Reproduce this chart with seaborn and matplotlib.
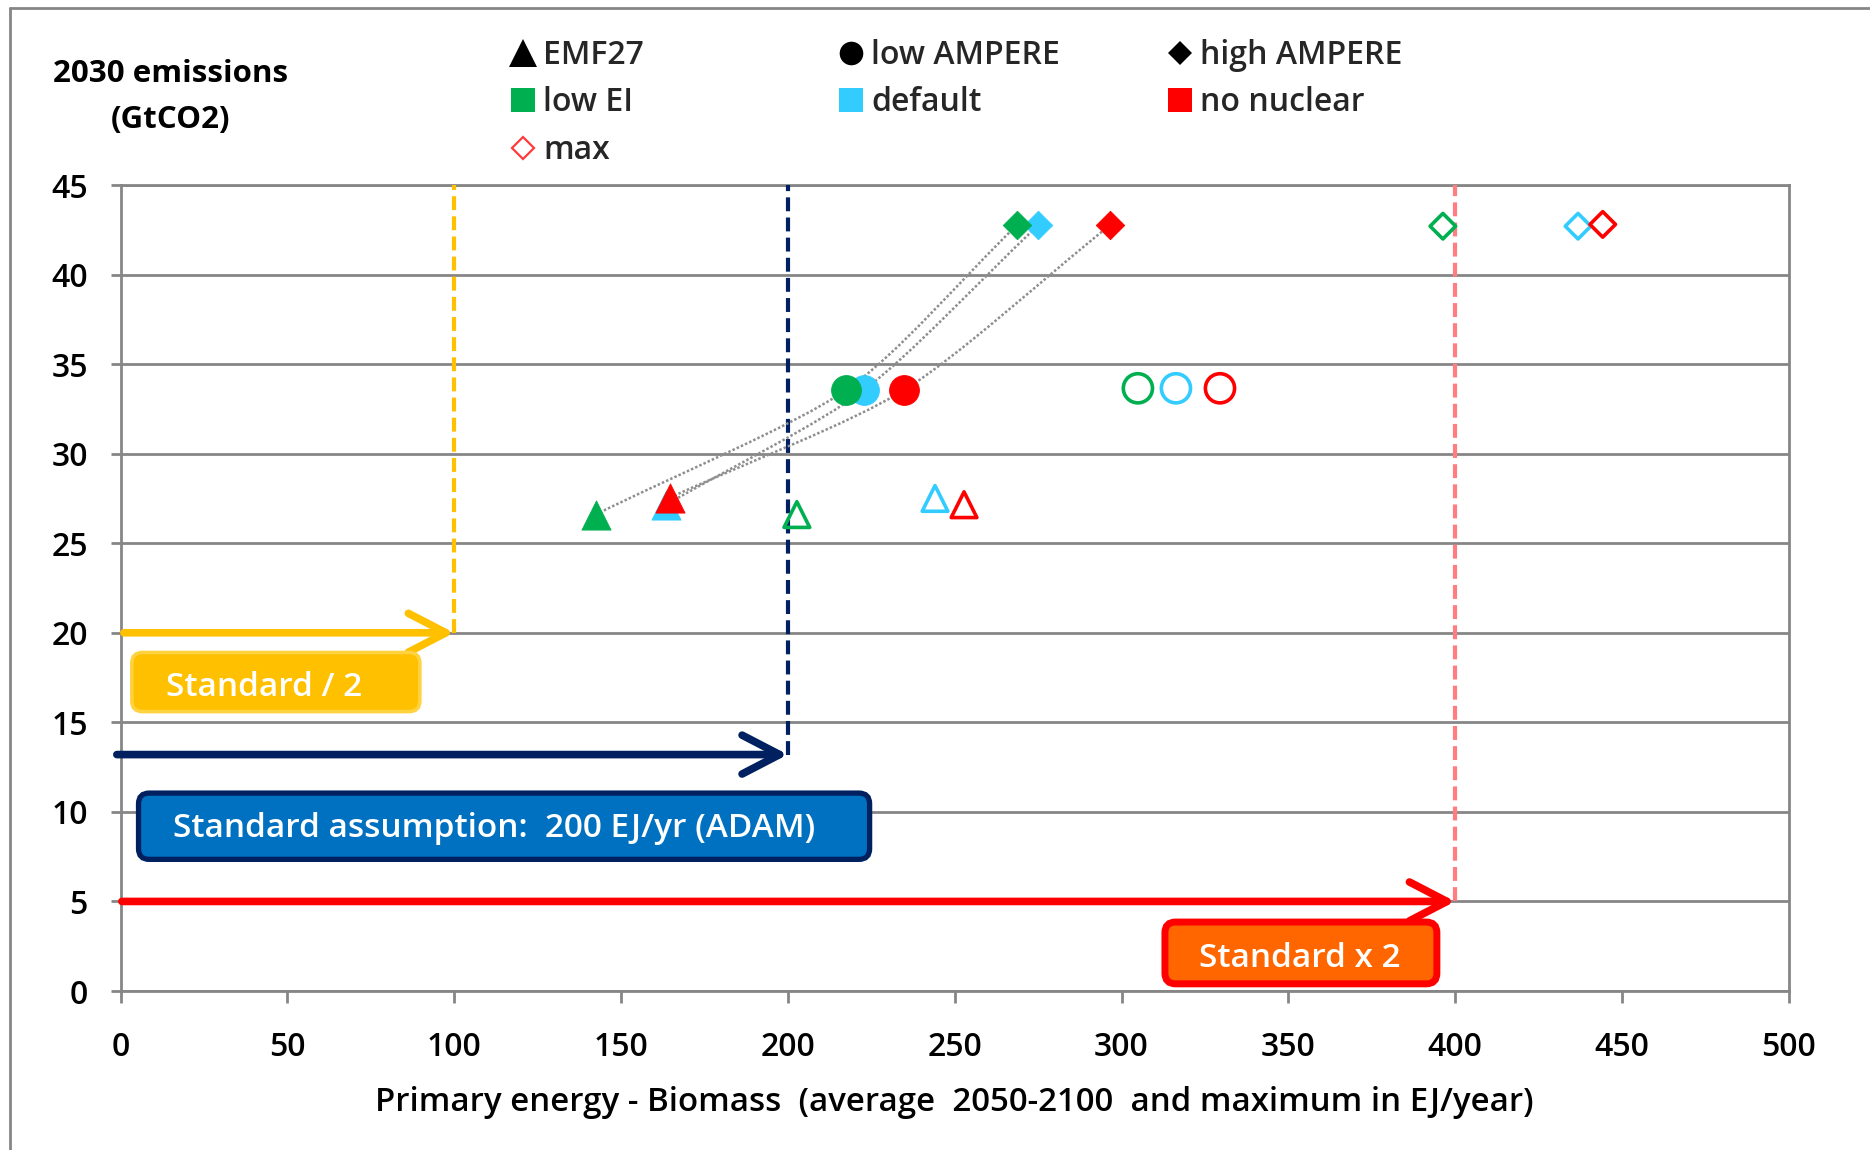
import numpy as np
import pandas as pd
import matplotlib
matplotlib.use("Agg")
import matplotlib.pyplot as plt
import seaborn as sns
from matplotlib.path import Path
from matplotlib.patches import PathPatch, FancyBboxPatch
from matplotlib.lines import Line2D

# ---- scenarios and models ----
scenarios = ["low EI", "default", "no nuclear"]
scenario_colors = ["#00B050", "#33CCFF", "#FF0000"]
models = ["EMF27", "low AMPERE", "high AMPERE"]
model_markers = ["^", "o", "D"]

# average 2050-2100 biomass use (EJ/yr) and 2030 emissions (GtCO2), one value per scenario
emf27_avg_bio = [142.4, 163.5, 164.7]
emf27_avg_co2 = [26.6, 27.15, 27.55]
low_ampere_avg_bio = [217.4, 222.8, 234.8]
low_ampere_avg_co2 = [33.55, 33.55, 33.55]
high_ampere_avg_bio = [268.6, 275.0, 296.5]
high_ampere_avg_co2 = [42.75, 42.75, 42.75]

# maximum biomass use (EJ/yr)
emf27_max_bio = [202.7, 244.1, 252.8]
emf27_max_co2 = [26.6, 27.5, 27.15]
low_ampere_max_bio = [304.9, 316.3, 329.5]
low_ampere_max_co2 = [33.65, 33.65, 33.65]
high_ampere_max_bio = [396.3, 436.8, 444.2]
high_ampere_max_co2 = [42.7, 42.7, 42.8]

# reference biomass potentials (EJ/yr) and their labels
ref_levels = [100, 200, 400]
ref_labels = ["Standard / 2", "Standard assumption:  200 EJ/yr (ADAM)", "Standard x 2"]

x_ticks = [0, 50, 100, 150, 200, 250, 300, 350, 400, 450, 500]
y_ticks = [0, 5, 10, 15, 20, 25, 30, 35, 40, 45]

# ---- tidy table ----
rows = []
series = zip(models,
             [emf27_avg_bio, low_ampere_avg_bio, high_ampere_avg_bio],
             [emf27_avg_co2, low_ampere_avg_co2, high_ampere_avg_co2],
             [emf27_max_bio, low_ampere_max_bio, high_ampere_max_bio],
             [emf27_max_co2, low_ampere_max_co2, high_ampere_max_co2])
for model, ab, ac, mb, mc in series:
    for i, sc in enumerate(scenarios):
        rows.append(dict(model=model, scenario=sc, stat="average", biomass=ab[i], co2=ac[i]))
        rows.append(dict(model=model, scenario=sc, stat="maximum", biomass=mb[i], co2=mc[i]))
df = pd.DataFrame(rows)
palette = dict(zip(scenarios, scenario_colors))

# ---- style ----
sns.set_theme(style="white")
plt.rcParams["font.family"] = ["Open Sans", "DejaVu Sans"]
plt.rcParams["lines.scale_dashes"] = False
GRID = "#868686"
TXT_W = "semibold"

fig = plt.figure(figsize=(18.7, 11.5), dpi=100)
ax = fig.add_axes([0.06444, 0.13826, 0.8922, 0.70087])
ax.set_xlim(0, 500)
ax.set_ylim(0, 45)

# gridlines and frame
ax.set_axisbelow(True)
ax.yaxis.grid(True, color=GRID, lw=2.0)
ax.xaxis.grid(False)
for sp in ax.spines.values():
    sp.set_color(GRID)
    sp.set_linewidth(2.0)
ax.set_xticks(x_ticks)
ax.set_yticks(y_ticks)
ax.tick_params(axis="y", direction="out", length=7.5, width=2, color=GRID,
               pad=16, labelsize=23, labelcolor="black", left=True)
ax.tick_params(axis="x", direction="out", length=8.6, width=2, color=GRID,
               pad=20, labelsize=23, labelcolor="black", bottom=True)
for lab in ax.get_xticklabels() + ax.get_yticklabels():
    lab.set_fontweight(TXT_W)

# outer chart border (top and left edges)
fig.add_artist(Line2D([9.5 / 1870, 1.0], [1 - 8.3 / 1150, 1 - 8.3 / 1150],
                      transform=fig.transFigure, color=GRID, lw=2))
fig.add_artist(Line2D([9.5 / 1870, 9.5 / 1870], [0.0, 1 - 8.3 / 1150],
                      transform=fig.transFigure, color=GRID, lw=2))

# ---- reference potentials: dashed verticals, arrows and labelled boxes ----
ref_line_colors = ["#FFC000", "#002060", "#FF7C80"]
ref_arrow_colors = ["#FFC000", "#002060", "#FF0000"]
ref_arrow_y = [20, 13.2, 5]
ref_arrow_start = [1.0, -1.1, 0.4]
for lvl, lc, ac, ay, ax0 in zip(ref_levels, ref_line_colors, ref_arrow_colors,
                                 ref_arrow_y, ref_arrow_start):
    ax.plot([lvl, lvl], [ay, 45], color=lc, lw=3, dashes=(10, 4.5), zorder=3,
            solid_capstyle="butt", dash_capstyle="butt")
    ax.annotate("", xy=(lvl, ay), xytext=(ax0, ay), annotation_clip=False,
                arrowprops=dict(arrowstyle="->,head_length=1.35,head_width=0.7",
                                color=ac, lw=5.5, shrinkA=0, shrinkB=0,
                                mutation_scale=20),
                zorder=4)

# label boxes (data coordinates)
box_x0 = [3.4, 5.4, 313.0]
box_x1 = [89.7, 224.5, 394.5]
box_y0 = [15.6, 7.35, 0.4]
box_y1 = [18.9, 11.05, 3.85]
box_face = ["#FFC000", "#0070C0", "#FF6600"]
box_edge = ["#FFD23F", "#002060", "#FF0000"]
box_lw = [2.6, 3.8, 5.0]
text_base = [16.45, 8.6, 1.36]

fig.canvas.draw()
px_x = ax.bbox.width / 500.0
px_y = ax.bbox.height / 45.0
aspect = px_x / px_y
for x0, x1, y0, y1, fc, ec, lw, tb, lab in zip(box_x0, box_x1, box_y0, box_y1,
                                               box_face, box_edge, box_lw,
                                               text_base, ref_labels):
    box = FancyBboxPatch((x0, y0), x1 - x0, y1 - y0,
                         boxstyle="round,pad=0,rounding_size=3.2",
                         mutation_aspect=aspect, fc=fc, ec=ec, lw=lw, zorder=6)
    ax.add_patch(box)
    ax.text(x0 + 10.3, tb, lab, color="white", fontsize=24, fontweight=TXT_W,
            ha="left", va="baseline", zorder=7)

# ---- dotted connectors between average values of each scenario ----
for sc in scenarios:
    sub = df[(df.scenario == sc) & (df.stat == "average")].set_index("model").loc[models]
    p0, p1, p2 = sub[["biomass", "co2"]].to_numpy()
    t1 = (p2 - p0) / 8.0
    verts = [p0, p0 + (p1 - p0) / 3.0, p1 - t1, p1,
             p1 + t1, p2 - (p2 - p1) / 3.0, p2]
    codes = [Path.MOVETO] + [Path.CURVE4] * 6
    ax.add_patch(PathPatch(Path(verts, codes), fc="none", ec="#8E8E8E",
                           lw=1.8, ls=(0, (1.8, 1.5)), zorder=4))

# ---- markers: filled = average, open = maximum ----
filled_ms = {"^": 21.0, "o": 21.5, "D": 14.5}
open_ms = {"^": 18.5, "o": 21.0, "D": 13.0}
draw_order = ["default", "low EI", "no nuclear"]
for model, marker in zip(models, model_markers):
    for sc in draw_order:
        col = palette[sc]
        sub = df[(df.model == model) & (df.scenario == sc)]
        sns.scatterplot(data=sub[sub.stat == "average"], x="biomass", y="co2",
                        marker=marker, s=filled_ms[marker] ** 2, color=col,
                        edgecolor=col, linewidth=0.6, zorder=8, legend=False, ax=ax)
        sns.scatterplot(data=sub[sub.stat == "maximum"], x="biomass", y="co2",
                        marker=marker, s=open_ms[marker] ** 2, color=col,
                        facecolor="none", edgecolor=col, linewidth=2.6,
                        zorder=8, legend=False, ax=ax)

ax.set_xlim(0, 500)
ax.set_ylim(0, 45)
ax.set_ylabel("")
ax.set_xlabel("Primary energy - Biomass  (average  2050-2100  and maximum in EJ/year)",
              fontsize=23.8, fontweight=TXT_W, color="black", labelpad=16)

# ---- axis title at the top left ----
fig.text(171 / 1870, 1 - 82 / 1150, "2030 emissions", ha="center", va="baseline",
         fontsize=22.5, fontweight="bold", color="black")
fig.text(171 / 1870, 1 - 128 / 1150, "(GtCO2)", ha="center", va="baseline",
         fontsize=22.5, fontweight="bold", color="black")

# ---- legend in three columns ----
def mk(marker, ms, fc, ec=None, mew=0.0):
    return Line2D([], [], ls="none", marker=marker, ms=ms, mfc=fc,
                  mec=ec if ec else fc, mew=mew)

legend_cols = [
    ([mk("^", 20, "black"), mk("s", 17, "#00B050"), mk("D", 11.5, "none", "#FF3B3B", 1.6)],
     ["EMF27", "low EI", "max"], 507),
    ([mk("o", 17, "black"), mk("s", 17, "#33CCFF")], ["low AMPERE", "default"], 835),
    ([mk("D", 12.5, "black"), mk("s", 17, "#FF0000")], ["high AMPERE", "no nuclear"], 1164),
]
for handles, labels, xpx in legend_cols:
    fig.legend(handles, labels, loc="upper left",
               bbox_to_anchor=(xpx / 1870, 1 - 39 / 1150), frameon=False,
               prop=dict(size=23, weight=TXT_W), handlelength=1.0,
               handletextpad=0.13, labelspacing=0.45, borderpad=0,
               borderaxespad=0)

fig.savefig("out.png", dpi=100)
